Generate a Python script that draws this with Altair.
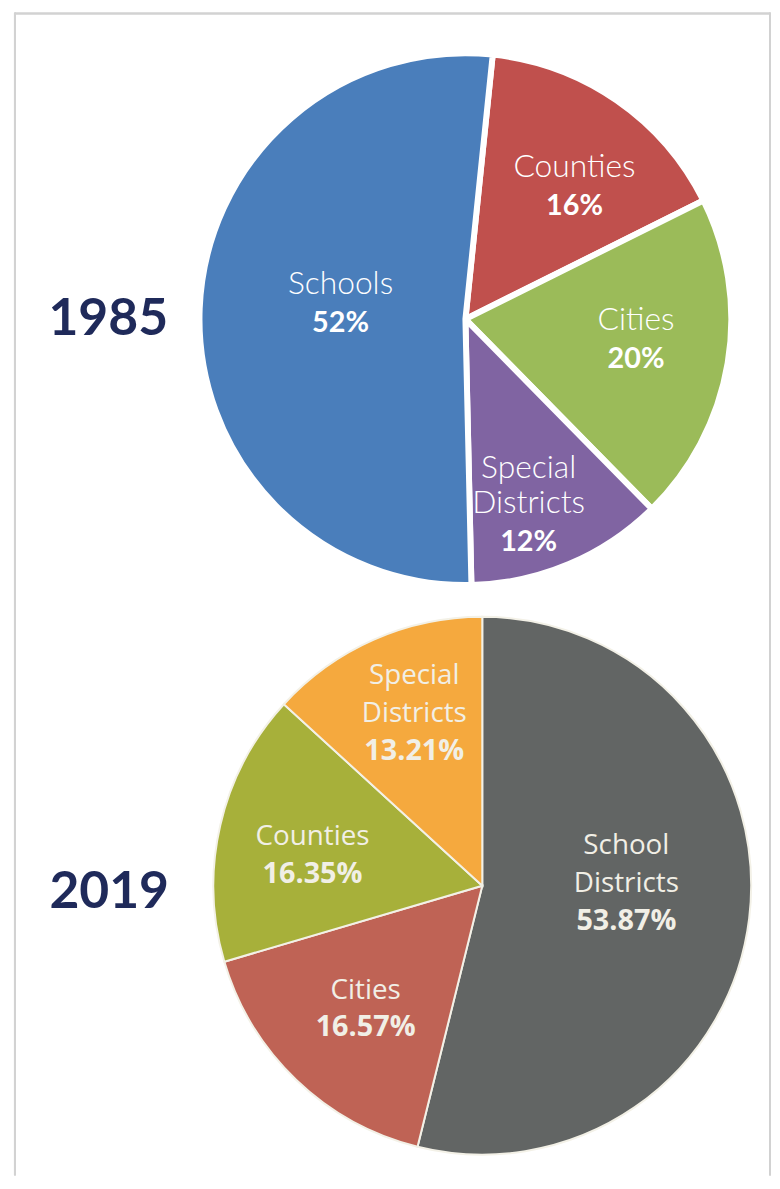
import altair as alt
import pandas as pd
import math

# ---- data ----
years = ["1985", "2019"]

cats_1985 = ["Counties", "Cities", "Special\nDistricts", "Schools"]
vals_1985 = [16, 20, 12, 52]
pct_1985 = ["16%", "20%", "12%", "52%"]

cats_2019 = ["School\nDistricts", "Cities", "Counties", "Special\nDistricts"]
vals_2019 = [53.87, 16.57, 16.35, 13.21]
pct_2019 = ["53.87%", "16.57%", "16.35%", "13.21%"]

# ---- styling / layout ----
colors_1985 = ["#c0504d", "#9bbb59", "#8064a2", "#4a7ebb"]
colors_2019 = ["#626564", "#bf6355", "#a7b03a", "#f5a93e"]
# label placement: radius (px) and angular nudge (degrees) from slice middle
label_r_1985 = [174, 173, 213, 127]
label_t_1985 = [4.5, -3.2, 5.5, 5.4]
label_r_2019 = [146, 170, 174, 170]
label_t_2019 = [-1.0, 0.0, -2.5, 0.0]

W, H = 770, 1172
C85 = (461, 309)
R85 = 268
C19 = (478, 880)
R19 = 271
start_85 = math.radians(5.9)
start_19 = 0.0


def make_df(cats, vals, pcts, radii, nudges):
    lines = [c.split("\n") for c in cats]
    return pd.DataFrame({
        "cat": cats,
        "upper": ["\n".join(l[:-1]) for l in lines],
        "lower": [l[-1] for l in lines],
        "value": vals,
        "pct": pcts,
        "order": list(range(len(cats))),
        "lr": radii,
        "lt": nudges,
    })


def pie(df, colors, center, radius, start, stroke, stroke_w,
        name_font, name_weight, name_size, pct_font, pct_size, text_color,
        line_h, name_dy, pct_dy):
    total = float(df["value"].sum())
    tscale = alt.Scale(domain=[0, total], range=[start, start + 2 * math.pi])
    base = alt.Chart(df).transform_stack(
        stack="value", as_=["v0", "v1"], groupby=[], sort=[alt.SortField("order", order="ascending")]
    ).transform_calculate(
        mid=f"(datum.v0 + datum.v1) / 2 + datum.lt / 360 * {total}"
    ).encode(
        x=alt.value(center[0]),
        y=alt.value(center[1]),
    )
    arcs = base.mark_arc(outerRadius=radius, stroke=stroke, strokeWidth=stroke_w).encode(
        theta=alt.Theta("v0:Q", scale=tscale),
        theta2="v1:Q",
        color=alt.Color("cat:N", scale=alt.Scale(domain=list(df["cat"]), range=colors), legend=None),
    )
    text_enc = dict(
        theta=alt.Theta("mid:Q", scale=tscale),
        radius=alt.Radius("lr:Q", scale=None),
    )
    upper = base.mark_text(
        font=name_font, fontWeight=name_weight, fontSize=name_size, color=text_color,
        baseline="alphabetic", align="center", dy=name_dy - line_h,
    ).encode(text="upper:N", **text_enc)
    lower = base.mark_text(
        font=name_font, fontWeight=name_weight, fontSize=name_size, color=text_color,
        baseline="alphabetic", align="center", dy=name_dy,
    ).encode(text="lower:N", **text_enc)
    pcts = base.mark_text(
        font=pct_font, fontWeight="bold", fontSize=pct_size, color=text_color,
        baseline="alphabetic", align="center", dy=pct_dy,
    ).encode(text="pct:N", **text_enc)
    return alt.layer(arcs, upper, lower, pcts)


df85 = make_df(cats_1985, vals_1985, pct_1985, label_r_1985, label_t_1985)
df19 = make_df(cats_2019, vals_2019, pct_2019, label_r_2019, label_t_2019)

pie85 = pie(df85, colors_1985, C85, R85, start_85, "white", 6,
            "Lato", 300, 32, "Lato", 29, "white", 35, -8, 30)
pie19 = pie(df19, colors_2019, C19, R19, start_19, "#f3f1e7", 2,
            "Open Sans", "normal", 28, "Open Sans", 29, "#f1efe6", 38.5, -9, 29)

year_df = pd.DataFrame({"year": years})
year85 = alt.Chart(year_df).transform_filter(alt.datum.year == "1985").mark_text(
    font="Lato", fontWeight="bold", fontSize=52, color="#1f2a5a", align="center", baseline="middle"
).encode(text="year:N", x=alt.value(101), y=alt.value(309))
year19 = alt.Chart(year_df).transform_filter(alt.datum.year == "2019").mark_text(
    font="Lato", fontWeight="bold", fontSize=52, color="#1f2a5a", align="center", baseline="middle"
).encode(text="year:N", x=alt.value(102), y=alt.value(886))

border_left = alt.Chart(year_df).mark_rule(color="#d2d2d2", strokeWidth=2).encode(
    x=alt.value(7), y=alt.value(0), y2=alt.value(H))
border_right = alt.Chart(year_df).mark_rule(color="#d2d2d2", strokeWidth=2).encode(
    x=alt.value(768), y=alt.value(0), y2=alt.value(H))
border_top = alt.Chart(year_df).mark_rule(color="#d2d2d2", strokeWidth=2).encode(
    x=alt.value(7), x2=alt.value(768), y=alt.value(1))

chart = alt.layer(
    border_left, border_right, border_top, year85, year19, pie85, pie19
).resolve_scale(
    theta="independent", color="independent", radius="independent"
).properties(
    width=W, height=H, padding=0, autosize=alt.AutoSizeParams(type="none")
).configure_view(stroke=None)

chart.save("out.html", embed_options={"renderer": "svg", "actions": False})
